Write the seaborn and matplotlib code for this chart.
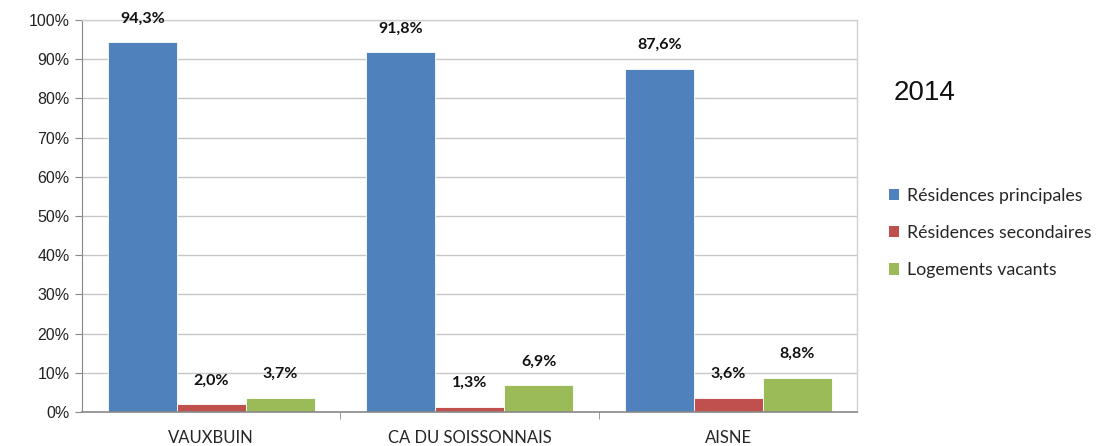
import pandas as pd
import seaborn as sns
import matplotlib.pyplot as plt
from matplotlib.patches import Patch

territoires = ["VAUXBUIN", "CA DU SOISSONNAIS", "AISNE"]
series = ["Résidences principales", "Résidences secondaires", "Logements vacants"]
principales = [94.3, 91.8, 87.6]
secondaires = [2.0, 1.3, 3.6]
vacants = [3.7, 6.9, 8.8]
couleurs = ["#4F81BD", "#C0504D", "#9BBB59"]

rows = []
for i, t in enumerate(territoires):
    for s, vals in zip(series, [principales, secondaires, vacants]):
        rows.append({"territoire": t, "type": s, "valeur": vals[i]})
df = pd.DataFrame(rows)

sns.set_style("white")
plt.rcParams["font.family"] = ["Liberation Sans", "DejaVu Sans"]

fig = plt.figure(figsize=(11.02, 4.46), dpi=100)
ax = fig.add_axes([0.0744, 0.0762, 0.7036, 0.8788])

sns.barplot(data=df, x="territoire", y="valeur", hue="type", palette=couleurs,
            order=territoires, hue_order=series, width=0.8, saturation=1,
            edgecolor="white", linewidth=0.6, legend=False, ax=ax)

for cont in ax.containers:
    for bar in cont:
        h = bar.get_height()
        ax.annotate(f"{h:.1f}%".replace(".", ","),
                    (bar.get_x() + bar.get_width() / 2, h),
                    xytext=(0, 12), textcoords="offset points",
                    ha="center", va="bottom", fontsize=11.5, fontweight="bold",
                    family=["Lato", "DejaVu Sans"], color="#111111")

ax.set_ylim(0, 100)
ax.set_xlim(-0.5, 2.5)
ax.set_yticks(range(0, 101, 10))
ax.set_yticklabels([f"{v}%" for v in range(0, 101, 10)], fontsize=11.5, color="#222222")
ax.yaxis.grid(True, color="#C8C8C8", linewidth=1)
ax.set_axisbelow(True)
ax.set_xlabel("")
ax.set_ylabel("")
for lab in ax.get_xticklabels():
    lab.set_fontsize(12)
    lab.set_family(["Lato", "DejaVu Sans"])
ax.tick_params(axis="x", length=0, pad=13)
ax.tick_params(axis="y", length=5, color="#888888", direction="out", left=True, pad=4)

# separateurs de categories sous l'axe
ax.set_xticks([0.5, 1.5], minor=True)
ax.tick_params(axis="x", which="minor", length=5, color="#888888", direction="out", bottom=True)

for side in ["top", "right"]:
    ax.spines[side].set_color("#D0D0D0")
    ax.spines[side].set_linewidth(1)
ax.spines["left"].set_color("#888888")
ax.spines["bottom"].set_color("#888888")
ax.spines["bottom"].set_linewidth(1.2)

handles = [Patch(facecolor=c, edgecolor="none") for c in couleurs]
fig.legend(handles, series, loc="upper left", bbox_to_anchor=(0.792, 0.615),
           frameon=False, prop={"family": ["Lato", "DejaVu Sans"], "size": 12.8},
           handlelength=0.6, handleheight=0.6, handletextpad=0.4, labelspacing=1.2)

fig.text(0.811, 0.775, "2014", fontsize=20, color="#111111")

fig.savefig("out.png", dpi=100, facecolor="white")
